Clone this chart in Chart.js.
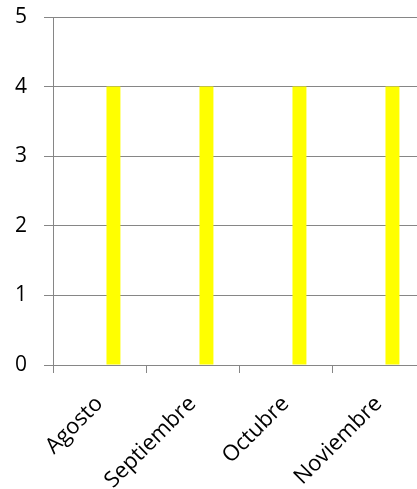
<!DOCTYPE html>
<html>
<head>
<meta charset="utf-8">
<script src="https://cdn.jsdelivr.net/npm/chart.js@4/dist/chart.umd.min.js"></script>
<style>
  html, body { margin: 0; padding: 0; background: #fff; overflow: hidden; }
  #wrap { width: 432px; height: 489px; }
</style>
</head>
<body>
<div id="wrap"><canvas id="meses"></canvas></div>
<script>
const categories = ['Agosto', 'Septiembre', 'Octubre', 'Noviembre'];
const serie1 = [0, 0, 0, 0];
const serie2 = [0, 0, 0, 0];
const serie3 = [4, 4, 4, 4];
const yTicks = [0, 1, 2, 3, 4, 5];

const meses = document.getElementById('meses');

new Chart(meses, {
  type: 'bar',
  data: {
    labels: categories,
    datasets: [
      { label: 'Serie1', data: serie1, backgroundColor: '#4F81BD' },
      { label: 'Serie2', data: serie2, backgroundColor: '#C0504D' },
      { label: 'Serie3', data: serie3, backgroundColor: '#FFFF00' }
    ]
  },
  options: {
    responsive: true,
    maintainAspectRatio: false,
    animation: false,
    datasets: {
      bar: { barPercentage: 1, categoryPercentage: 0.45 }
    },
    layout: { padding: { top: 17, right: 7, left: 0, bottom: 0 } },
    plugins: {
      legend: { display: false },
      tooltip: { enabled: false }
    },
    scales: {
      x: {
        afterFit: (s) => { s.height = 124; },
        grid: {
          offset: true,
          drawOnChartArea: false,
          color: '#868686',
          tickLength: 8,
          tickColor: '#868686'
        },
        border: { color: '#868686' },
        ticks: {
          color: '#000',
          font: { family: 'Open Sans', size: 22 },
          minRotation: 45,
          maxRotation: 45,
          padding: 18
        }
      },
      y: {
        min: 0,
        max: 5,
        afterFit: (s) => {
          s.width = 53;
          // keep the tick padding from pushing the plot down
          s.paddingTop = 12;
          s.paddingBottom = 0;
        },
        afterBuildTicks: (s) => { s.ticks = yTicks.map(v => ({ value: v })); },
        grid: {
          color: '#868686',
          tickLength: 9,
          tickColor: '#868686'
        },
        border: { color: '#868686' },
        ticks: {
          color: '#000',
          font: { family: 'Open Sans', size: 21 },
          padding: 17
        }
      }
    }
  }
});
</script>
</body>
</html>
